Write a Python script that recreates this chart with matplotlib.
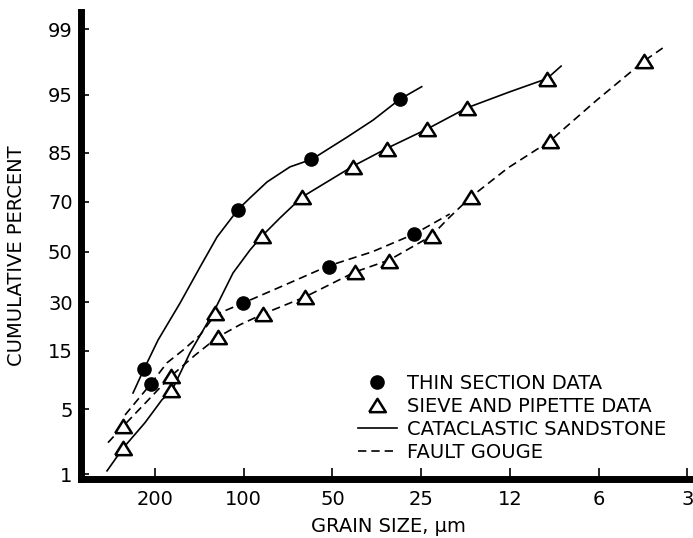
import numpy as np
import matplotlib
matplotlib.use('Agg')
import matplotlib.pyplot as plt
from matplotlib.lines import Line2D
from statistics import NormalDist

# puntos medidos (tamaño en micras, porcentaje acumulado)
ts_sand_size = [218, 104.6, 58.9, 29.4]
ts_sand_pct = [11.0, 67.1, 83.4, 94.5]
sv_sand_size = [256.8, 176.5, 125.1, 86.7, 63.4, 42.6, 32.6, 23.8, 17.5, 9.36]
sv_sand_pct = [2.0, 7.4, 26.1, 56.4, 71.7, 81.4, 86.0, 90.1, 93.4, 96.5]
ts_gouge_size = [206.4, 100.6, 51.5, 26.4]
ts_gouge_pct = [8.4, 29.6, 43.9, 57.4]
sv_gouge_size = [256.8, 176.5, 122.2, 86.0, 61.9, 41.9, 32.1, 23.0, 17.0, 9.14, 4.39]
sv_gouge_pct = [3.4, 9.7, 18.7, 25.8, 31.9, 41.7, 46.0, 56.6, 71.7, 87.7, 97.7]

# curvas dibujadas a mano
sand_ts_curve_size = [237.5, 218, 195.4, 164.5, 140.7, 123.2, 104.6, 95.2, 83.3, 69.7, 58.6, 44.6, 36.4, 29.5, 24.9]
sand_ts_curve_pct = [7.0, 11.0, 17.8, 29.6, 43.7, 56.2, 67.1, 71.4, 76.8, 81.3, 83.4, 88.5, 91.6, 94.5, 95.8]
sand_sv_curve_size = [291, 256.8, 216.3, 189.4, 175.1, 152.1, 127.1, 108.7, 95.2, 86.7, 75.3, 63.4, 42.6, 32.6, 23.8, 17.5, 12.5, 9.36, 8.38]
sand_sv_curve_pct = [1.1, 2.0, 3.7, 6.1, 7.4, 14.6, 26.1, 41.3, 50.8, 56.6, 63.9, 71.7, 81.5, 86.1, 90.1, 93.4, 95.3, 96.5, 97.4]
gouge_sv_curve_size = [288.8, 256.8, 208, 176.5, 146.3, 122.2, 103, 86.0, 61.9, 41.9, 32.1, 23.1, 20.3, 17.1, 12.7, 9.14, 6.38, 4.39, 3.79]
gouge_sv_curve_pct = [2.3, 3.4, 6.3, 9.7, 14.0, 18.7, 22.3, 25.8, 31.9, 41.7, 46.6, 56.6, 63.5, 71.4, 81.0, 87.7, 94.3, 97.7, 98.35]
gouge_ts_curve_size = [252.8, 206.4, 182.1, 160.7, 140.7, 125.1, 100.6, 72.4, 51.8, 36.7, 26.4, 20.0]
gouge_ts_curve_pct = [4.4, 8.4, 12.3, 15.2, 19.2, 25.5, 29.6, 36.5, 44.1, 50.0, 57.4, 65.4]

x_ticks = [200, 100, 50, 25, 12.5, 6.25, 3.125]
x_labels = ['200', '100', '50', '25', '12', '6', '3']
y_ticks = [1, 5, 15, 30, 50, 70, 85, 95, 99]

# escala de probabilidad normal
_nd = NormalDist()
_ppf = np.vectorize(lambda v: _nd.inv_cdf(v / 100.0), otypes=[float])
_cdf = np.vectorize(lambda v: _nd.cdf(v) * 100.0, otypes=[float])


def forward(p):
    return _ppf(np.clip(np.asarray(p, float), 1e-4, 100 - 1e-4))


def inverse(z):
    return _cdf(np.asarray(z, float))


fig = plt.figure(figsize=(6.93, 5.38), dpi=100)
ax = fig.add_axes([81 / 693, 59 / 538, 612 / 693, 467 / 538])
ax.set_xscale('log', base=2)
ax.set_yscale('function', functions=(forward, inverse))

dash = (0, (5, 3))
ax.plot(sand_ts_curve_size, sand_ts_curve_pct, '-', color='black', lw=1.2)
ax.plot(sand_sv_curve_size, sand_sv_curve_pct, '-', color='black', lw=1.2)
ax.plot(gouge_ts_curve_size, gouge_ts_curve_pct, ls=dash, color='black', lw=1.2)
ax.plot(gouge_sv_curve_size, gouge_sv_curve_pct, ls=dash, color='black', lw=1.2)

tri = [(-1, -0.8), (1, -0.8), (0, 0.8), (-1, -0.8)]
ax.plot(ts_sand_size, ts_sand_pct, 'o', color='black', ms=9.5, zorder=4)
ax.plot(ts_gouge_size, ts_gouge_pct, 'o', color='black', ms=9.5, zorder=4)
ax.plot(sv_sand_size, sv_sand_pct, ls='none', marker=tri, ms=12, mfc='white', mec='black', mew=1.8, zorder=4)
ax.plot(sv_gouge_size, sv_gouge_pct, ls='none', marker=tri, ms=12, mfc='white', mec='black', mew=1.8, zorder=4)

ax.set_xlim(356.6, 2.99)
ax.set_ylim(0.876, 99.395)
ax.set_xticks(x_ticks)
ax.set_xticklabels(x_labels)
ax.xaxis.set_minor_locator(plt.NullLocator())
ax.set_yticks(y_ticks)
ax.set_yticklabels([str(t) for t in y_ticks])
ax.yaxis.set_minor_locator(plt.NullLocator())

for s in ['top', 'right']:
    ax.spines[s].set_visible(False)
for s in ['left', 'bottom']:
    ax.spines[s].set_linewidth(5)
ax.tick_params(axis='x', direction='in', length=8, width=1.2, pad=8, labelsize=14)
ax.tick_params(axis='y', direction='in', length=6, width=1.2, pad=6, labelsize=14)

ax.set_xlabel('GRAIN SIZE, μm', fontsize=14)
ax.set_ylabel('CUMULATIVE PERCENT', fontsize=14)
ax.xaxis.set_label_coords(0.503, -0.081)
ax.yaxis.set_label_coords(-0.09, 0.4775)

handles = [
    Line2D([], [], ls='none', marker='o', color='black', ms=9.5),
    Line2D([], [], ls='none', marker=tri, ms=12, mfc='white', mec='black', mew=1.8),
    Line2D([], [], ls='-', color='black', lw=1.2),
    Line2D([], [], ls=dash, color='black', lw=1.2),
]
labels = ['THIN SECTION DATA', 'SIEVE AND PIPETTE DATA', 'CATACLASTIC SANDSTONE', 'FAULT GOUGE']
ax.legend(handles, labels, loc='upper left', bbox_to_anchor=(358 / 693, 1 - 374 / 538),
          bbox_transform=fig.transFigure, frameon=False, fontsize=14, borderpad=0,
          borderaxespad=0, handlelength=2.0, handletextpad=0.5, labelspacing=0.2)

plt.savefig('out.png', dpi=100)
